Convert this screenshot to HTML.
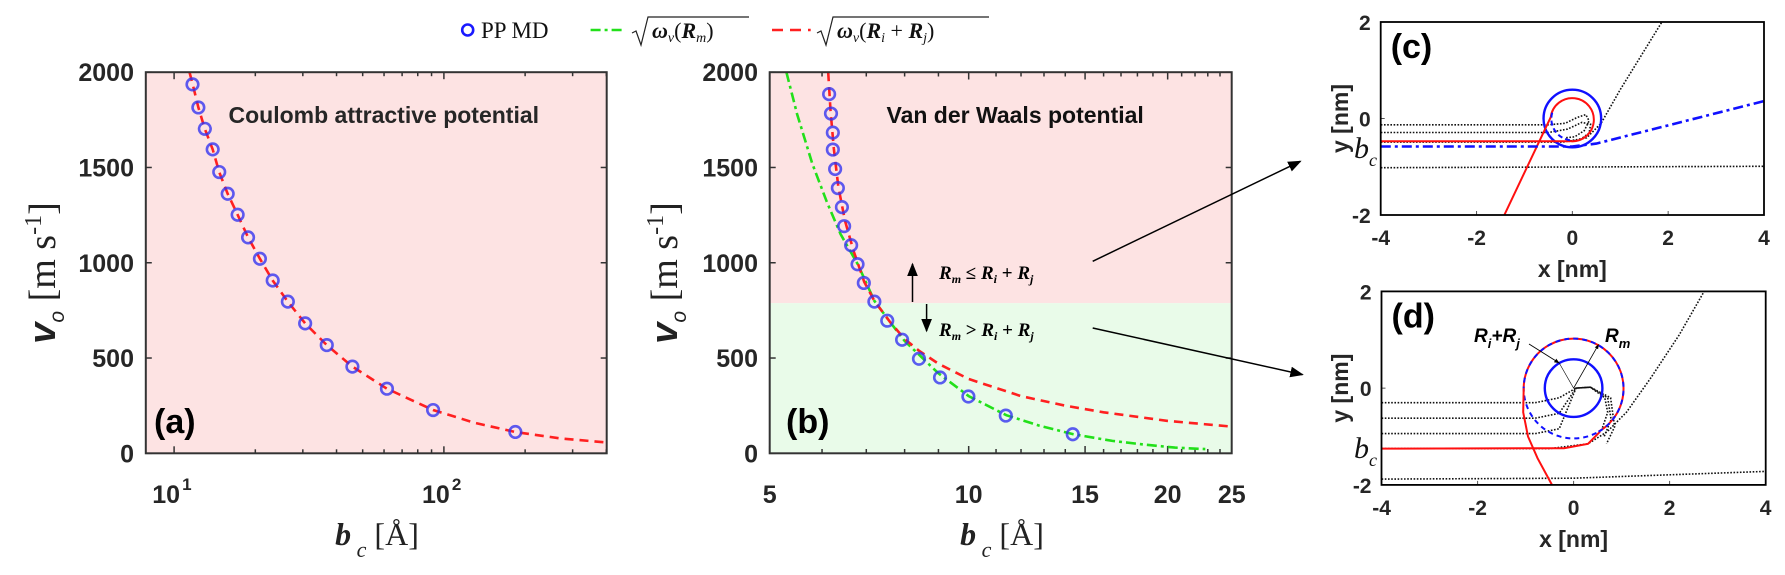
<!DOCTYPE html>
<html><head><meta charset="utf-8"><style>
html,body{margin:0;padding:0;background:#fff;}
svg{display:block;}
.tk{font-family:"Liberation Sans",sans-serif;font-weight:bold;fill:#262626;}
.ser{font-family:"Liberation Serif",serif;}
</style></head><body>
<svg id="fig" width="1785" height="575" viewBox="0 0 1785 575" xmlns="http://www.w3.org/2000/svg">
<defs>
<clipPath id="clipA"><rect x="145.8" y="72.2" width="460.9" height="381.1"/></clipPath>
<clipPath id="clipB"><rect x="769.7" y="72.2" width="462" height="381.1"/></clipPath>
<clipPath id="clipC"><rect x="1380.7" y="22" width="383.3" height="193"/></clipPath>
<clipPath id="clipD"><rect x="1381.5" y="291.4" width="384.2" height="193.5"/></clipPath>
<marker id="ah" viewBox="0 0 10 10" refX="9" refY="5" markerWidth="9" markerHeight="9" orient="auto"><path d="M0,1 L10,5 L0,9 Z" fill="#000"/></marker>
<marker id="ahs" viewBox="0 0 10 10" refX="9" refY="5" markerWidth="6" markerHeight="6" orient="auto"><path d="M0,1 L10,5 L0,9 Z" fill="#000"/></marker>
</defs>
<g id="root"></g>
</svg>
<script>
// ---- Panel (a) data ----
const aPointsB = [11.7,12.3,13.0,13.9,14.7,15.8,17.2,18.8,20.8,23.2,26.4,30.6,36.8,45.8,61.5,91.2,184];
const aPointsV = [1936,1815,1703,1595,1476,1362,1252,1133,1021,907,796,682,568,455,339,227,112];
const aCurveB = [11.4,11.7,12.3,13.0,13.9,14.7,15.8,17.2,18.8,20.8,23.2,26.4,30.6,36.8,45.8,61.5,91.2,130,184,270,414];
const aCurveV = [2000,1940,1815,1703,1595,1476,1362,1252,1133,1021,907,796,682,568,455,339,227,160,112,78,55];
const aYTicks = [0,500,1000,1500,2000];
// ---- Panel (b) data ----
const bPointsB = [6.15,6.19,6.23,6.23,6.28,6.34,6.43,6.48,6.64,6.79,6.94,7.20,7.53,7.93,8.41,9.05,9.99,11.38,14.37];
const bPointsV = [1885,1783,1683,1594,1492,1392,1292,1192,1092,992,894,796,696,596,496,398,298,198,100];
const bRedB = [6.13,6.18,6.25,6.35,6.5,6.7,6.95,7.2,7.6,8.0,8.4,9.0,10,12,14,16,20,25];
const bRedV = [2000,1800,1600,1400,1220,1060,900,800,690,600,540,470,390,300,250,215,170,140];
const bGreenB = [5.3,5.5,5.8,6.1,6.4,6.8,7.2,7.6,8.0,9.0,10,11.4,12.8,14.4,16.5,18.5,20.5,22.8];
const bGreenV = [2000,1780,1520,1320,1150,990,800,690,590,420,300,200,145,100,65,45,30,22];
const bThreshold = 788;
const bXTicks = [5,10,15,20,25];
const bXMinor = [6,7,8,9,11,12,13,14,16,17,18,19,21,22,23,24];
// ---- Panel (c) trajectories (nm) ----
const cL1x=[-4,-0.5,-0.15,0.1,0.28,0.35,0.25,0.05,-0.15]; const cL1y=[-0.13,-0.13,-0.1,0.02,0.08,-0.05,-0.25,-0.38,-0.4];
const cL2x=[-4,-0.5,-0.1,0.2,0.38,0.35,0.15,-0.1]; const cL2y=[-0.29,-0.29,-0.22,-0.08,-0.12,-0.3,-0.45,-0.47];
const cEx=[-4,-0.2,0.3,0.6,1.0,1.87]; const cEy=[-0.49,-0.49,-0.4,-0.1,0.6,2];
const cBlueX=[-4,0,0.5,4]; const cBlueY=[-0.58,-0.58,-0.52,0.36];
const cBotX=[-4,4]; const cBotY=[-1.02,-0.99];
const cRedX=[-4,-0.05]; const cRedY=[-0.47,-0.47];
// ---- Panel (d) trajectories ----
const dLoopY=[-0.30,-0.62,-0.94];
const dEx=[-4,-0.5,0.3,0.7,1.1,1.6,2.2,2.72]; const dEy=[-1.25,-1.25,-1.15,-0.9,-0.5,0.2,1.1,2];
const dBotX=[-4,0,4]; const dBotY=[-1.88,-1.86,-1.72];
const dRedX=[-4,-0.2,0.3,0.55]; const dRedY=[-1.25,-1.24,-1.15,-0.9];
const dRedTailX=[-1.04,-1.05,-0.95,-0.75,-0.45]; const dRedTailY=[0,-0.5,-1.0,-1.45,-2];

const NS="http://www.w3.org/2000/svg";
const root=document.getElementById('root');
function mk(tag,attrs,parent){const e=document.createElementNS(NS,tag);for(const k in attrs)e.setAttribute(k,attrs[k]);(parent||root).appendChild(e);return e;}
const L10=Math.log10;
const xa=b=>174.1+(L10(b)-1)*269.8;
const yv=v=>453.3-v/2000*381.1;
const xb=b=>769.7+(L10(b)-L10(5))*661;
const xc=x=>1572.35+x*47.9, yc=y=>118.5-y*48.25;
const xd=x=>1573.6+x*48.0, yd=y=>388.15-y*48.4;
function pts(xs,ys,fx,fy){return xs.map((x,i)=>fx(x).toFixed(1)+','+fy(ys[i]).toFixed(1)).join(' ');}

// ===== Panel (a) =====
let g=mk('g',{});


let bg=mk('rect',{x:145.8,y:72.2,width:460.9,height:381.1,fill:'#fde3e3'},g);


for(const v of aYTicks){
  mk('line',{x1:145.8,x2:151.8,y1:yv(v),y2:yv(v),stroke:'#333','stroke-width':1.5},g);
  mk('line',{x1:606.7,x2:600.7,y1:yv(v),y2:yv(v),stroke:'#333','stroke-width':1.5},g);
  const t=mk('text',{x:134,y:yv(v)+9,'text-anchor':'end','font-size':25,class:'tk'},g);t.textContent=v;
  
  
}
for(let d=1;d<=2;d++)for(let m=1;m<=9;m++){const b=m*Math.pow(10,d);if(b<7.9||b>414)continue;const x=xa(b);const len=m==1?7:4;
  mk('line',{x1:x,x2:x,y1:453.3,y2:453.3-len,stroke:'#333','stroke-width':1.5},g);
  mk('line',{x1:x,x2:x,y1:72.2,y2:72.2+len,stroke:'#333','stroke-width':1.5},g);}
[[1,174.1],[2,443.9]].forEach(([p,x])=>{const t=mk('text',{x:x-8,y:503,'text-anchor':'middle','font-size':25,class:'tk'},g);t.textContent='10';
  
  
  const s=mk('text',{x:x+8,y:490,'font-size':17,class:'tk'},g);s.textContent=p;});
let ca=mk('g',{'clip-path':'url(#clipA)'},g);
let lnA=mk('polyline',{points:pts(aCurveB,aCurveV,xa,yv),fill:'none',stroke:'#ff2020','stroke-width':2.6,'stroke-dasharray':'9,6'},ca);


aPointsB.forEach((b,i)=>{const c=mk('circle',{cx:xa(b),cy:yv(aPointsV[i]),r:5.8,fill:'none',stroke:'#3535f0','stroke-opacity':0.8,'stroke-width':2.6},ca);
  
  });
mk('rect',{x:145.8,y:72.2,width:460.9,height:381.1,fill:'none',stroke:'#333','stroke-width':2},g);
let t=mk('text',{x:228.5,y:123,'font-size':23,class:'tk',fill:'#111'},g);t.textContent='Coulomb attractive potential';

t=mk('text',{x:154,y:433,'font-size':34,class:'tk',style:'fill:#000'},g);t.textContent='(a)';

function yTitle(cx,cy,name){const gg=mk('g',{transform:`translate(${cx},${cy}) rotate(-90)`});
  
  const tt=mk('text',{x:0,y:0,'text-anchor':'middle','font-size':38,fill:'#222'},gg);
  tt.innerHTML='<tspan font-family="Liberation Sans,sans-serif" font-weight="bold" font-style="italic">v</tspan><tspan font-family="Liberation Sans,sans-serif" font-style="italic" font-size="21" dy="9">o</tspan><tspan class="ser" dy="-9" font-family="Liberation Serif,serif"> [m s</tspan><tspan font-family="Liberation Serif,serif" font-size="24" dy="-14">-1</tspan><tspan font-family="Liberation Serif,serif" dy="14">]</tspan>';}
yTitle(55,273,'y-axis-title-a');
function xTitle(cx,name){const tt=mk('text',{x:cx,y:545,'text-anchor':'middle','font-size':32,fill:'#222','font-family':'Liberation Serif,serif'});
  
  tt.innerHTML='<tspan font-style="italic" font-weight="bold">b</tspan><tspan font-style="italic" font-size="22" dy="12"> c</tspan><tspan dy="-12"> [Å]</tspan>';}
xTitle(377,'x-axis-title-a');

// ===== Panel (b) =====
g=mk('g',{});


bg=mk('rect',{x:769.7,y:72.2,width:462,height:yv(bThreshold)-72.2,fill:'#fde3e3'},g);

bg=mk('rect',{x:769.7,y:yv(bThreshold),width:462,height:453.3-yv(bThreshold),fill:'#e9fbe9'},g);

for(const v of aYTicks){
  mk('line',{x1:769.7,x2:775.7,y1:yv(v),y2:yv(v),stroke:'#333','stroke-width':1.5},g);
  mk('line',{x1:1231.7,x2:1225.7,y1:yv(v),y2:yv(v),stroke:'#333','stroke-width':1.5},g);
  const tt=mk('text',{x:758,y:yv(v)+9,'text-anchor':'end','font-size':25,class:'tk'},g);tt.textContent=v;
  
}
for(const b of bXTicks){const x=xb(b);
  mk('line',{x1:x,x2:x,y1:453.3,y2:446,stroke:'#333','stroke-width':1.5},g);
  mk('line',{x1:x,x2:x,y1:72.2,y2:79.5,stroke:'#333','stroke-width':1.5},g);
  const tt=mk('text',{x:x,y:503,'text-anchor':'middle','font-size':25,class:'tk'},g);tt.textContent=b;
  }
for(const b of bXMinor){const x=xb(b);
  mk('line',{x1:x,x2:x,y1:453.3,y2:449,stroke:'#333','stroke-width':1.5},g);
  mk('line',{x1:x,x2:x,y1:72.2,y2:76.5,stroke:'#333','stroke-width':1.5},g);}
let cb=mk('g',{'clip-path':'url(#clipB)'},g);
let gl=mk('polyline',{points:pts(bGreenB,bGreenV,xb,yv),fill:'none',stroke:'#22e01a','stroke-width':2.6,'stroke-dasharray':'10,4,3,4'},cb);

let rl=mk('polyline',{points:pts(bRedB,bRedV,xb,yv),fill:'none',stroke:'#ff2020','stroke-width':2.6,'stroke-dasharray':'9,6'},cb);

bPointsB.forEach((b,i)=>{const c=mk('circle',{cx:xb(b),cy:yv(bPointsV[i]),r:5.8,fill:'none',stroke:'#3535f0','stroke-opacity':0.8,'stroke-width':2.6},cb);
  
  });
mk('rect',{x:769.7,y:72.2,width:462,height:381.1,fill:'none',stroke:'#333','stroke-width':2},g);
t=mk('text',{x:886.5,y:123,'font-size':23,class:'tk',style:'fill:#111'},g);t.textContent='Van der Waals potential';

t=mk('text',{x:786,y:433,'font-size':34,class:'tk',style:'fill:#000'},g);t.textContent='(b)';

t=mk('text',{x:939,y:279,'font-size':19,'font-family':'Liberation Serif,serif','font-weight':'bold','font-style':'italic'},g);
t.innerHTML='R<tspan font-size="12" dy="4">m</tspan><tspan dy="-4" font-style="normal"> ≤ </tspan>R<tspan font-size="12" dy="4">i</tspan><tspan dy="-4" font-style="normal"> + </tspan>R<tspan font-size="12" dy="4">j</tspan>';

t=mk('text',{x:939,y:336,'font-size':19,'font-family':'Liberation Serif,serif','font-weight':'bold','font-style':'italic'},g);
t.innerHTML='R<tspan font-size="12" dy="4">m</tspan><tspan dy="-4" font-style="normal"> &gt; </tspan>R<tspan font-size="12" dy="4">i</tspan><tspan dy="-4" font-style="normal"> + </tspan>R<tspan font-size="12" dy="4">j</tspan>';

mk('line',{x1:912.5,y1:302,x2:912.5,y2:264,stroke:'#000','stroke-width':1.5,'marker-end':'url(#ah)'},g);
mk('line',{x1:926.6,y1:304,x2:926.6,y2:331,stroke:'#000','stroke-width':1.5,'marker-end':'url(#ah)'},g);
let ar=mk('line',{x1:1092.7,y1:261.3,x2:1300.4,y2:161.3,stroke:'#000','stroke-width':1.5,'marker-end':'url(#ah)'});

ar=mk('line',{x1:1092.7,y1:328,x2:1302.5,y2:374.6,stroke:'#000','stroke-width':1.5,'marker-end':'url(#ah)'});

yTitle(677,273,'y-axis-title-b');
xTitle(1002,'x-axis-title-b');

// ===== Legend =====
let lg=mk('g',{});

let le=mk('g',{},lg);
mk('circle',{cx:467.7,cy:30,r:5.5,fill:'none',stroke:'#1a1aff','stroke-width':2.6},le);
t=mk('text',{x:481,y:38,'font-size':23,'font-family':'Liberation Serif,serif',fill:'#111'},le);t.textContent='PP MD';
le=mk('g',{},lg);
mk('line',{x1:590.6,x2:625,y1:30,y2:30,stroke:'#22e01a','stroke-width':2.6,'stroke-dasharray':'10,4,3,4'},le);
mk('path',{d:'M632,33 L636,31 L641,45 L648,17 L749,17',fill:'none',stroke:'#222','stroke-width':1.2},le);
t=mk('text',{x:652,y:38,'font-size':22,'font-family':'Liberation Serif,serif','font-style':'italic',fill:'#111'},le);
t.innerHTML='<tspan font-weight="bold">ω</tspan><tspan font-size="14" dy="4">v</tspan><tspan dy="-4" font-style="normal">(</tspan><tspan font-weight="bold">R</tspan><tspan font-size="14" dy="4">m</tspan><tspan dy="-4" font-style="normal">)</tspan>';
le=mk('g',{},lg);
mk('line',{x1:772,x2:810.7,y1:30,y2:30,stroke:'#ff2020','stroke-width':2.6,'stroke-dasharray':'11,7'},le);
mk('path',{d:'M817,33 L821,31 L826,45 L833,17 L989,17',fill:'none',stroke:'#222','stroke-width':1.2},le);
t=mk('text',{x:837,y:38,'font-size':22,'font-family':'Liberation Serif,serif','font-style':'italic',fill:'#111'},le);
t.innerHTML='<tspan font-weight="bold">ω</tspan><tspan font-size="14" dy="4">v</tspan><tspan dy="-4" font-style="normal">(</tspan><tspan font-weight="bold">R</tspan><tspan font-size="14" dy="4">i</tspan><tspan dy="-4" font-style="normal"> + </tspan><tspan font-weight="bold">R</tspan><tspan font-size="14" dy="4">j</tspan><tspan dy="-4" font-style="normal">)</tspan>';

// ===== Panels (c),(d) axes =====
function smallAxes(name,x0,x1,y0,y1,fx,fy,label){
  const gg=mk('g',{});
  mk('rect',{x:x0,y:y0,width:x1-x0,height:y1-y0,fill:'#fff'},gg);
  [-4,-2,0,2,4].forEach(v=>{const x=fx(v);mk('line',{x1:x,x2:x,y1:y1,y2:y1-4,stroke:'#555','stroke-width':1},gg);
    const tt=mk('text',{x:x,y:y1+30,'text-anchor':'middle','font-size':21,class:'tk'},gg);tt.textContent=v<0?'-'+(-v):v;
    });
  [-2,0,2].forEach(v=>{const y=fy(v);mk('line',{x1:x0,x2:x0+4,y1:y,y2:y,stroke:'#555','stroke-width':1},gg);
    const tt=mk('text',{x:x0-10,y:y+8,'text-anchor':'end','font-size':21,class:'tk'},gg);tt.textContent=v<0?'-'+(-v):v;
    });
  let tt=mk('text',{x:(x0+x1)/2,y:y1+62,'text-anchor':'middle','font-size':23,class:'tk'},gg);tt.textContent='x [nm]';
  
  const yg=mk('g',{transform:`translate(1348,${(y0+y1)/2}) rotate(-90)`},gg);
  tt=mk('text',{x:0,y:0,'text-anchor':'middle','font-size':23,class:'tk'},yg);tt.textContent='y [nm]';
  
  tt=mk('text',{x:x0+10,y:y0+36,'font-size':34,class:'tk',style:'fill:#000'},gg);tt.textContent=label;
  
  return gg;}
function bcLabel(x,y){const tt=mk('text',{x:x,y:y,'font-size':30,'font-family':'Liberation Serif,serif','font-style':'italic',fill:'#111'});
  tt.innerHTML='b<tspan font-size="18" dy="8">c</tspan>';}
const dot={fill:'none',stroke:'#111','stroke-width':1.6,'stroke-dasharray':'1.6,1.6'};
function pl(xs,ys,fx,fy,st,par,name){const e=mk('polyline',Object.assign({points:pts(xs,ys,fx,fy)},st),par);
  return e;}

// (c)
let gc=smallAxes('panel-c',1380.7,1764,22,215,xc,yc,'(c)');
let cc=mk('g',{'clip-path':'url(#clipC)'},gc);
pl(cL1x,cL1y,xc,yc,dot,cc,'trajectory');
pl(cL2x,cL2y,xc,yc,dot,cc,'trajectory');
pl(cEx,cEy,xc,yc,dot,cc,'escape-trajectory');
pl(cBotX,cBotY,xc,yc,dot,cc,'trajectory');
let ci=mk('circle',{cx:xc(0),cy:yc(0),r:0.6*48,fill:'none',stroke:'#1010ff','stroke-width':2.4},cc);

pl(cRedX,cRedY,xc,yc,{fill:'none',stroke:'#ff1010','stroke-width':2},cc,'critical-trajectory');
{const r=0.45*48;const p=mk('path',{d:`M${xc(-0.05)},${yc(-0.47)} A${r},${r} 0 1 0 ${xc(-0.45)},${yc(0.03)} L${xc(-1.42)},${yc(-2)}`,fill:'none',stroke:'#ff1010','stroke-width':2},cc);
 
 mk('path',{d:`M${xc(-0.42)},${yc(0.12)} A${r},${r} 0 0 0 ${xc(-0.05)},${yc(-0.45)}`,fill:'none',stroke:'#1010ff','stroke-width':2,'stroke-dasharray':'5,3'},cc);}
pl(cBlueX,cBlueY,xc,yc,{fill:'none',stroke:'#1010ff','stroke-width':2.6,'stroke-dasharray':'10,4,3,4'},cc,'blue-dashdot-trajectory');
mk('rect',{x:1380.7,y:22,width:383.3,height:193,fill:'none',stroke:'#000','stroke-width':1.8},gc);
bcLabel(1354,158);

// (d)
let gd=smallAxes('panel-d',1381.5,1765.7,291.4,484.9,xd,yd,'(d)');
let cd=mk('g',{'clip-path':'url(#clipD)'},gd);
dLoopY.forEach((y0,i)=>{const s=0.6+i*0.12;const xs=[-4,-0.8,-0.3,0.05,0.35,0.35+s*0.5,0.35+s*0.6,0.35+s*0.4];const ys=[y0,y0,y0+0.1,0,0.02,-0.2,-0.5-i*0.15,-0.85-i*0.15];
  pl(xs,ys,xd,yd,dot,cd,'trajectory');});
pl(dEx,dEy,xd,yd,dot,cd,'escape-trajectory');
pl(dBotX,dBotY,xd,yd,dot,cd,'trajectory');
ci=mk('circle',{cx:xd(0),cy:yd(0),r:0.6*48,fill:'none',stroke:'#1010ff','stroke-width':2.4},cd);

pl(dRedX,dRedY,xd,yd,{fill:'none',stroke:'#ff1010','stroke-width':2},cd,'critical-trajectory');
{const r=1.04*48;const a0=-60*Math.PI/180;
 const p=mk('path',{d:`M${xd(1.04*Math.cos(a0))},${yd(1.04*Math.sin(a0))} A${r},${r} 0 1 0 ${xd(-1.04)},${yd(0)}`,fill:'none',stroke:'#ff1010','stroke-width':2},cd);
 
 mk('path',{d:`M${xd(1.04*Math.cos(a0))},${yd(1.04*Math.sin(a0))} A${r},${r} 0 1 0 ${xd(-1.04)},${yd(0)} A${r},${r} 0 0 0 ${xd(1.04*Math.cos(a0))},${yd(1.04*Math.sin(a0))}`,fill:'none',stroke:'#1010ff','stroke-width':2,'stroke-dasharray':'5,4'},cd);}
pl(dRedTailX,dRedTailY,xd,yd,{fill:'none',stroke:'#ff1010','stroke-width':2},cd,'critical-trajectory-tail');
mk('line',{x1:1529,y1:344,x2:xd(-0.3),y2:yd(0.52),stroke:'#000','stroke-width':0.9,'marker-end':'url(#ahs)'},cd);
mk('line',{x1:xd(0),y1:yd(0),x2:xd(0.52),y2:yd(0.9),stroke:'#000','stroke-width':0.8,'marker-end':'url(#ahs)'},cd);
mk('line',{x1:xd(0),y1:yd(0),x2:xd(-0.3),y2:yd(0.52),stroke:'#000','stroke-width':0.6},cd);
mk('rect',{x:1381.5,y:291.4,width:384.2,height:193.5,fill:'none',stroke:'#000','stroke-width':1.8},gd);
t=mk('text',{x:1474,y:342,'font-size':19,class:'tk','font-style':'italic',style:'fill:#000'},gd);
t.innerHTML='R<tspan font-size="13" dy="6">i</tspan><tspan dy="-6">+R</tspan><tspan font-size="13" dy="6">j</tspan>';

t=mk('text',{x:1605,y:342,'font-size':19,class:'tk','font-style':'italic',style:'fill:#000'},gd);
t.innerHTML='R<tspan font-size="13" dy="6">m</tspan>';

bcLabel(1354,458);
</script>
</body></html>
